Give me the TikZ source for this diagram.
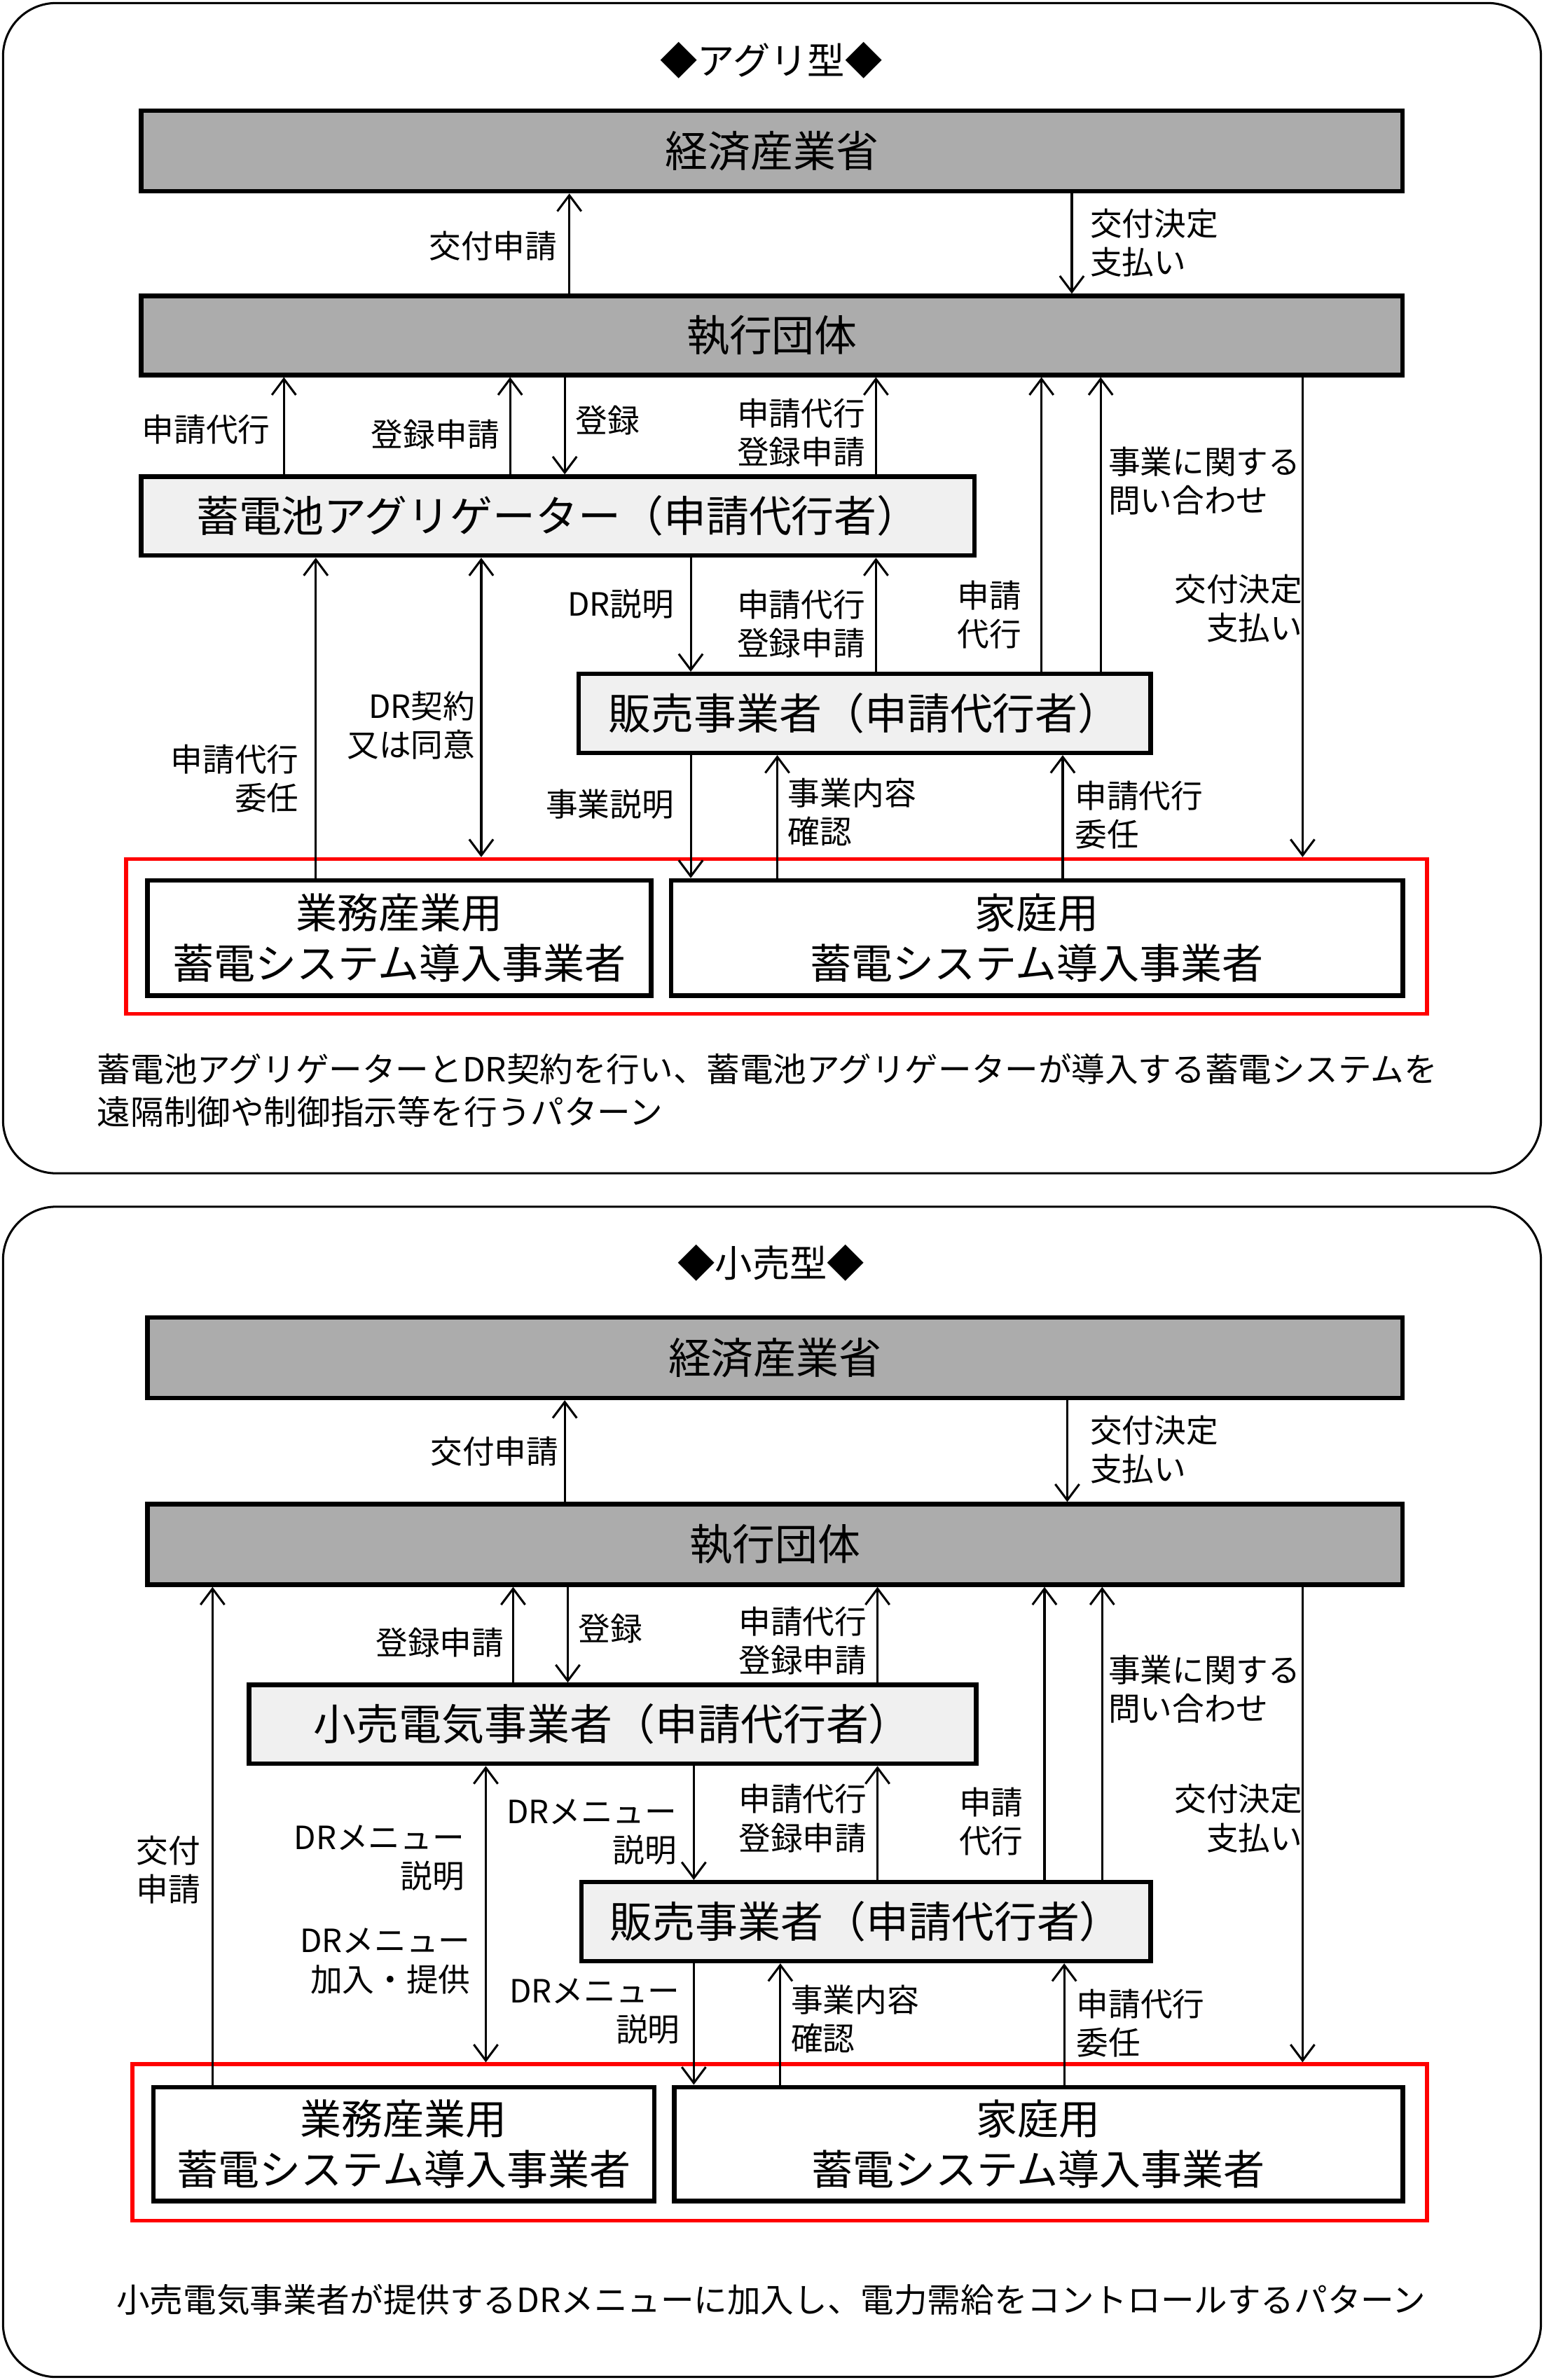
\documentclass[tikz,border=0pt]{standalone}
\usepackage{fontspec}
\setmainfont{Noto Sans CJK JP}
\usetikzlibrary{arrows.meta}
\tikzset{
  box/.style={draw=black, line width=1.7pt, inner sep=0pt, font=\fontsize{16}{18}\selectfont},
  dark/.style={box, fill=gray!65},
  light/.style={box, fill=gray!12},
  white/.style={box, fill=white, align=center, font=\fontsize{15.5}{19}\selectfont},
  redbox/.style={draw=red, line width=1.5pt, inner sep=0pt},
  lbl/.style={font=\fontsize{12}{14.5}\selectfont, inner sep=1pt, align=left},
  lblr/.style={lbl, align=right},
  arr/.style={-{Straight Barb[length=6pt,width=9pt]}, line width=0.8pt},
  darr/.style={{Straight Barb[length=6pt,width=9pt]}-{Straight Barb[length=6pt,width=9pt]}, line width=0.8pt}
}
\begin{document}
\begin{tikzpicture}[x=0.02cm,y=-0.02cm]
\useasboundingbox (0,0) rectangle (1017,1568);
% panels
\draw[line width=0.8pt, rounded corners=0.7cm] (2,2) rectangle (1015,773);
\draw[line width=0.8pt, rounded corners=0.7cm] (2,795) rectangle (1015,1566);

% aggregator type
\node[font=\fontsize{14}{16}\selectfont] (title1) at (508,40) {◆アグリ型◆};
\node[dark, minimum width=16.62cm, minimum height=1.06cm] (meti1) at (508.5,99.5) {経済産業省};
\node[dark, minimum width=16.62cm, minimum height=1.04cm] (dantai1) at (508.5,221) {執行団体};
\node[light, minimum width=10.98cm, minimum height=1.04cm] (aggr) at (367.5,340) {蓄電池アグリゲーター（申請代行者）};
\node[light, minimum width=7.54cm, minimum height=1.04cm] (hanbai1) at (569.5,470) {販売事業者（申請代行者）};
\node[redbox, minimum width=17.14cm, minimum height=2.04cm] (red1) at (511.5,617) {};
\node[white, minimum width=6.64cm, minimum height=1.52cm] (gyomu1) at (263,618) {業務産業用\\蓄電システム導入事業者};
\node[white, minimum width=9.64cm, minimum height=1.52cm] (katei1) at (683,618) {家庭用\\蓄電システム導入事業者};
\node[lbl, anchor=north west, font=\fontsize{12.5}{16}\selectfont] (cap1) at (62,692)
  {蓄電池アグリゲーターとDR契約を行い、蓄電池アグリゲーターが導入する蓄電システムを\\遠隔制御や制御指示等を行うパターン};

\draw[arr] (dantai1.north -| 375,0) -- (meti1.south -| 375,0);
\node[lblr, anchor=east] (l1a) at (369,162) {交付申請};
\draw[arr] (meti1.south -| 706,0) -- (dantai1.north -| 706,0);
\node[lbl, anchor=west] (l1b) at (716,160) {交付決定\\支払い};
\draw[arr] (aggr.north -| 187,0) -- (dantai1.south -| 187,0);
\node[lblr, anchor=east] (l1c) at (180,283) {申請代行};
\draw[arr] (aggr.north -| 336,0) -- (dantai1.south -| 336,0);
\node[lblr, anchor=east] (l1d) at (331,286) {登録申請};
\draw[arr] (dantai1.south -| 372,0) -- (aggr.north -| 372,0);
\node[lbl, anchor=west] (l1e) at (377,277) {登録};
\draw[arr] (aggr.north -| 577,0) -- (dantai1.south -| 577,0);
\node[lblr, anchor=east] (l1f) at (572,285) {申請代行\\登録申請};
\draw[arr] (hanbai1.north -| 686,0) -- (dantai1.south -| 686,0);
\node[lblr, anchor=east] (l1g) at (675,405) {申請\\代行};
\draw[arr] (hanbai1.north -| 725,0) -- (dantai1.south -| 725,0);
\node[lbl, anchor=west] (l1h) at (728,317) {事業に関する\\問い合わせ};
\draw[arr] (dantai1.south -| 858,0) -- (red1.north -| 858,0);
\node[lblr, anchor=east] (l1i) at (860,401) {交付決定\\支払い};
\draw[arr] (gyomu1.north -| 208,0) -- (aggr.south -| 208,0);
\node[lblr, anchor=east] (l1j) at (199,513) {申請代行\\委任};
\draw[darr] (aggr.south -| 317,0) -- (red1.north -| 317,0);
\node[lblr, anchor=east] (l1k) at (315,478) {DR契約\\又は同意};
\draw[arr] (aggr.south -| 455,0) -- (hanbai1.north -| 455,0);
\node[lblr, anchor=east] (l1l) at (446,398) {DR説明};
\draw[arr] (hanbai1.north -| 577,0) -- (aggr.south -| 577,0);
\node[lblr, anchor=east] (l1m) at (572,411) {申請代行\\登録申請};
\draw[arr] (hanbai1.south -| 455,0) -- (katei1.north -| 455,0);
\node[lblr, anchor=east] (l1n) at (446,530) {事業説明};
\draw[arr] (katei1.north -| 512,0) -- (hanbai1.south -| 512,0);
\node[lbl, anchor=west] (l1o) at (517,535) {事業内容\\確認};
\draw[arr] (katei1.north -| 700,0) -- (hanbai1.south -| 700,0);
\node[lbl, anchor=west] (l1p) at (706,537) {申請代行\\委任};

% retail type
\node[font=\fontsize{14}{16}\selectfont] (title2) at (508,832) {◆小売型◆};
\node[dark, minimum width=16.54cm, minimum height=1.06cm] (meti2) at (510.5,894.5) {経済産業省};
\node[dark, minimum width=16.54cm, minimum height=1.06cm] (dantai2) at (510.5,1017.5) {執行団体};
\node[light, minimum width=9.58cm, minimum height=1.04cm] (kouri) at (403.5,1136) {小売電気事業者（申請代行者）};
\node[light, minimum width=7.5cm, minimum height=1.04cm] (hanbai2) at (570.5,1266) {販売事業者（申請代行者）};
\node[redbox, minimum width=17.06cm, minimum height=2.06cm] (red2) at (513.5,1411.5) {};
\node[white, minimum width=6.6cm, minimum height=1.5cm] (gyomu2) at (266,1412.5) {業務産業用\\蓄電システム導入事業者};
\node[white, minimum width=9.6cm, minimum height=1.5cm] (katei2) at (684,1412.5) {家庭用\\蓄電システム導入事業者};
\node[font=\fontsize{12.5}{16}\selectfont] (cap2) at (508,1515)
  {小売電気事業者が提供するDRメニューに加入し、電力需給をコントロールするパターン};

\draw[arr] (dantai2.north -| 372,0) -- (meti2.south -| 372,0);
\node[lblr, anchor=east] (l2a) at (370,956) {交付申請};
\draw[arr] (meti2.south -| 703,0) -- (dantai2.north -| 703,0);
\node[lbl, anchor=west] (l2b) at (716,955) {交付決定\\支払い};
\draw[arr] (gyomu2.north -| 140,0) -- (dantai2.south -| 140,0);
\node[lblr, anchor=east] (l2c) at (134,1232) {交付\\申請};
\draw[arr] (kouri.north -| 338,0) -- (dantai2.south -| 338,0);
\node[lblr, anchor=east] (l2d) at (334,1082) {登録申請};
\draw[arr] (dantai2.south -| 374,0) -- (kouri.north -| 374,0);
\node[lbl, anchor=west] (l2e) at (379,1073) {登録};
\draw[arr] (kouri.north -| 578,0) -- (dantai2.south -| 578,0);
\node[lblr, anchor=east] (l2f) at (573,1081) {申請代行\\登録申請};
\draw[arr] (hanbai2.north -| 688,0) -- (dantai2.south -| 688,0);
\node[lblr, anchor=east] (l2g) at (676,1200) {申請\\代行};
\draw[arr] (hanbai2.north -| 726,0) -- (dantai2.south -| 726,0);
\node[lbl, anchor=west] (l2h) at (728,1113) {事業に関する\\問い合わせ};
\draw[arr] (dantai2.south -| 858,0) -- (red2.north -| 858,0);
\node[lblr, anchor=east] (l2i) at (860,1198) {交付決定\\支払い};
\draw[darr] (kouri.south -| 320,0) -- (red2.north -| 320,0);
\node[lblr, anchor=east] (l2j) at (308,1224) {DRメニュー\\説明};
\node[lblr, anchor=east] (l2k) at (312,1292) {DRメニュー\\加入・提供};
\draw[arr] (kouri.south -| 457,0) -- (hanbai2.north -| 457,0);
\node[lblr, anchor=east] (l2l) at (448,1207) {DRメニュー\\説明};
\draw[arr] (hanbai2.north -| 578,0) -- (kouri.south -| 578,0);
\node[lblr, anchor=east] (l2m) at (573,1198) {申請代行\\登録申請};
\draw[arr] (hanbai2.south -| 457,0) -- (katei2.north -| 457,0);
\node[lblr, anchor=east] (l2n) at (450,1325) {DRメニュー\\説明};
\draw[arr] (katei2.north -| 514,0) -- (hanbai2.south -| 514,0);
\node[lbl, anchor=west] (l2o) at (519,1330) {事業内容\\確認};
\draw[arr] (katei2.north -| 701,0) -- (hanbai2.south -| 701,0);
\node[lbl, anchor=west] (l2p) at (707,1333) {申請代行\\委任};
\end{tikzpicture}
\end{document}
